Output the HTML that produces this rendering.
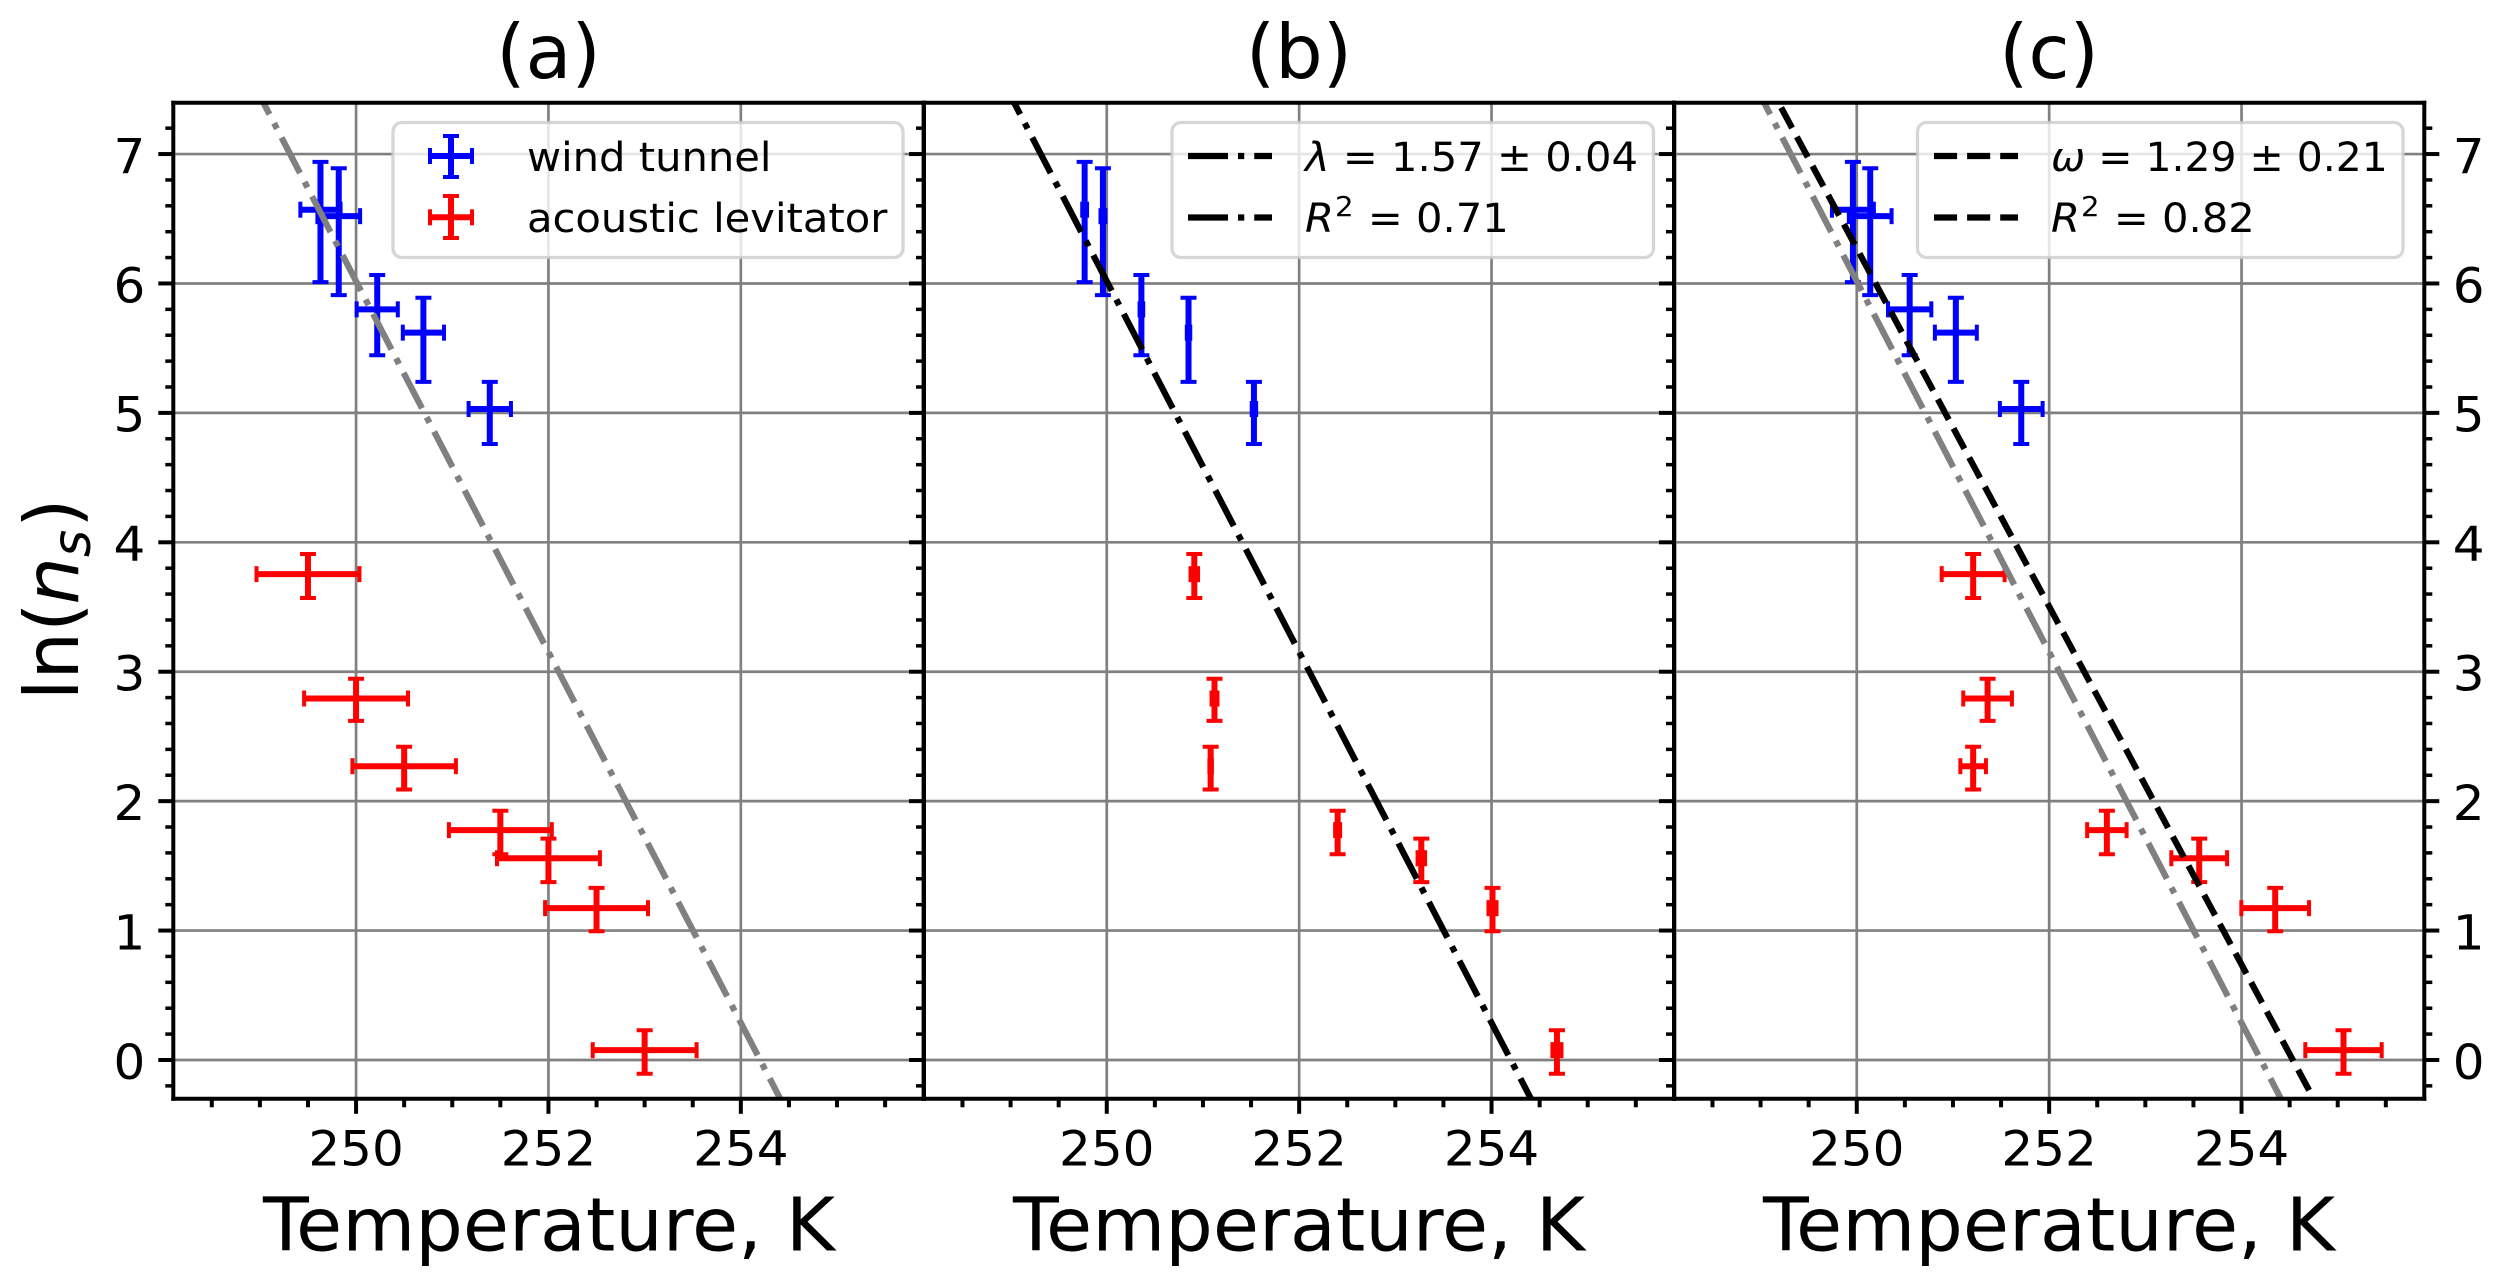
<!DOCTYPE html>
<html lang="en">
<head>
<meta charset="utf-8">
<title>Temperature dependence of ln(ns)</title>
<style>
html,body{margin:0;padding:0;background:#fff;}
svg{display:block;font-family:"DejaVu Sans","Liberation Sans",sans-serif;}
.title{font-size:75px;fill:#000;}
.axis-label{font-size:74px;fill:#000;}
.legend-text{font-size:40px;fill:#000;}
.legend-frame{fill:#fff;fill-opacity:.8;stroke:#ccc;stroke-opacity:.8;stroke-width:3.3;}
</style>
</head>
<body>
<svg id="chart" xmlns="http://www.w3.org/2000/svg" width="2506" height="1287" viewBox="0 0 2506 1287">
  <rect x="0" y="0" width="2506" height="1287" fill="#fff"/>
  <g id="layer-marks"></g>

  <g>
    <rect class="legend-frame" x="393" y="122.5" width="510" height="135" rx="9"/>
    <g stroke="#0000ff" fill="none">
      <line x1="430" x2="472" y1="156" y2="156" stroke-width="6"/>
      <line x1="451" x2="451" y1="136" y2="177" stroke-width="6"/>
      <line x1="430" x2="430" y1="148" y2="164" stroke-width="4"/>
      <line x1="472" x2="472" y1="148" y2="164" stroke-width="4"/>
      <line x1="443" x2="459" y1="136" y2="136" stroke-width="4"/>
      <line x1="443" x2="459" y1="177" y2="177" stroke-width="4"/>
    </g>
    <text class="legend-text" transform="translate(527,171) scale(1.042,1)">wind tunnel</text>
    <g stroke="#ff0000" fill="none">
      <line x1="430" x2="472" y1="217.3" y2="217.3" stroke-width="6"/>
      <line x1="451" x2="451" y1="196" y2="238" stroke-width="6"/>
      <line x1="430" x2="430" y1="209.3" y2="225.3" stroke-width="4"/>
      <line x1="472" x2="472" y1="209.3" y2="225.3" stroke-width="4"/>
      <line x1="443" x2="459" y1="196" y2="196" stroke-width="4"/>
      <line x1="443" x2="459" y1="238" y2="238" stroke-width="4"/>
    </g>
    <text class="legend-text" transform="translate(527,232) scale(1.042,1)">acoustic levitator</text>
  </g>

  <g>
    <rect class="legend-frame" x="1172" y="122.5" width="481.5" height="135" rx="9"/>
    <line x1="1188" x2="1272" y1="156" y2="156" stroke="#000" stroke-width="6.25" stroke-dasharray="40 10 6.25 10"/>
    <text class="legend-text" transform="translate(1305,171) scale(1.042,1)"><tspan font-style="italic">λ</tspan> = 1.57 ± 0.04</text>
    <line x1="1188" x2="1272" y1="217.5" y2="217.5" stroke="#000" stroke-width="6.25" stroke-dasharray="40 10 6.25 10"/>
    <text class="legend-text" transform="translate(1305,232) scale(1.042,1)"><tspan font-style="italic">R</tspan><tspan font-size="28" dy="-16" dx="1">2</tspan><tspan dy="16" dx="1"> = 0.71</tspan></text>
  </g>

  <g>
    <rect class="legend-frame" x="1917.5" y="122.5" width="485.5" height="135" rx="9"/>
    <line x1="1934" x2="2018" y1="156" y2="156" stroke="#000" stroke-width="6.25" stroke-dasharray="23.1 10"/>
    <text class="legend-text" transform="translate(2051,171) scale(1.022,1)"><tspan font-style="italic">ω</tspan> = 1.29 ± 0.21</text>
    <line x1="1934" x2="2018" y1="217.5" y2="217.5" stroke="#000" stroke-width="6.25" stroke-dasharray="23.1 10"/>
    <text class="legend-text" transform="translate(2051,232) scale(1.042,1)"><tspan font-style="italic">R</tspan><tspan font-size="28" dy="-16" dx="1">2</tspan><tspan dy="16" dx="1"> = 0.82</tspan></text>
  </g>

  <text class="title" x="548.5" y="77.8" text-anchor="middle">(a)</text>
  <text class="title" x="1299" y="77.8" text-anchor="middle">(b)</text>
  <text class="title" x="2049" y="77.8" text-anchor="middle">(c)</text>
  <text class="axis-label" transform="translate(549,1250.3) scale(1.014,1)" text-anchor="middle">Temperature, K</text>
  <text class="axis-label" transform="translate(1299,1250.3) scale(1.014,1)" text-anchor="middle">Temperature, K</text>
  <text class="axis-label" transform="translate(2049,1250.3) scale(1.014,1)" text-anchor="middle">Temperature, K</text>
  <text transform="translate(78,700.3) rotate(-90)" font-size="75" fill="#000">ln(<tspan font-style="italic" dx="-2">n</tspan><tspan font-style="italic" font-size="52.5" dy="12">s</tspan><tspan dy="-12" dx="2">)</tspan></text>
</svg>

<script>
// Shared measured values
const blueLnNs = [6.57, 6.52, 5.80, 5.62, 5.03];
const blueLnNsLow = [6.01, 5.91, 5.445, 5.24, 4.76];
const blueLnNsHigh = [6.94, 6.89, 6.065, 5.89, 5.24];
const redLnNs = [3.754, 2.793, 2.27, 1.776, 1.559, 1.173, 0.076];
const redLnNsLow = [3.57, 2.62, 2.09, 1.59, 1.374, 0.995, -0.106];
const redLnNsHigh = [3.91, 2.946, 2.42, 1.926, 1.71, 1.33, 0.23];

// Panel (a) temperatures
const blueTempA = [249.63, 249.82, 250.22, 250.70, 251.39];
const blueTempErrA = [0.209, 0.222, 0.214, 0.214, 0.22];
const redTempA = [249.50, 250.0, 250.50, 251.50, 252.0, 252.50, 253.0];
const redTempErrA = [0.535, 0.54, 0.538, 0.535, 0.535, 0.535, 0.54];

// Panel (b) temperatures
const blueTempB = [249.77, 249.96, 250.36, 250.85, 251.53];
const blueTempErrB = [0.025, 0.025, 0.019, 0.018, 0.023];
const redTempB = [250.91, 251.12, 251.08, 252.40, 253.27, 254.01, 254.68];
const redTempErrB = [0.039, 0.031, 0.013, 0.026, 0.039, 0.042, 0.047];

// Panel (c) temperatures
const blueTempC = [249.96, 250.14, 250.55, 251.03, 251.71];
const blueTempErrC = [0.218, 0.222, 0.225, 0.218, 0.222];
const redTempC = [251.21, 251.36, 251.21, 252.60, 253.56, 254.35, 255.06];
const redTempErrC = [0.327, 0.253, 0.133, 0.205, 0.29, 0.352, 0.397];

// Fit lines (temperature, ln(ns)) at their two ends
const fitLambdaTemp = [249.035, 254.41];
const fitLambdaLnNs = [7.4, -0.3];
const fitOmegaTemp = [249.184, 254.75];
const fitOmegaLnNs = [7.4, -0.3];

// Ticks
const xMajorTicks = [250, 252, 254];
const xTickLabels = ['250', '252', '254'];
const xMinorTicks = [248.5, 249, 249.5, 250.5, 251, 251.5, 252.5, 253, 253.5, 254.5, 255, 255.5];
const yMajorTicks = [0, 1, 2, 3, 4, 5, 6, 7];
const yTickLabels = ['0', '1', '2', '3', '4', '5', '6', '7'];
const yMinorTicks = [-0.2, 0.2, 0.4, 0.6, 0.8, 1.2, 1.4, 1.6, 1.8, 2.2, 2.4, 2.6, 2.8, 3.2, 3.4, 3.6, 3.8, 4.2, 4.4, 4.6, 4.8, 5.2, 5.4, 5.6, 5.8, 6.2, 6.4, 6.6, 6.8, 7.2];

// Axis limits
const xLimits = [248.1, 255.9];
const yLimits = [-0.3, 7.396];

const SVGNS = 'http://www.w3.org/2000/svg';
const layer = document.getElementById('layer-marks');
const plotTop = 102.8, plotBottom = 1098.8, plotWidth = 750.3;

function xAxis(left, t) {
  return left + (t - xLimits[0]) / (xLimits[1] - xLimits[0]) * plotWidth;
}
function yAxis(v) {
  return plotBottom - (v - yLimits[0]) / (yLimits[1] - yLimits[0]) * (plotBottom - plotTop);
}
function seg(parent, name, x1, y1, x2, y2, color, width, dash, offset) {
  const el = document.createElementNS(SVGNS, 'line');
  
  
  el.setAttribute('x1', x1);
  el.setAttribute('y1', y1);
  el.setAttribute('x2', x2);
  el.setAttribute('y2', y2);
  el.setAttribute('stroke', color);
  el.setAttribute('stroke-width', width);
  if (dash) {
    el.setAttribute('stroke-dasharray', dash);
    el.setAttribute('stroke-dashoffset', offset || 0);
  }
  parent.appendChild(el);
  return el;
}
function label(parent, name, x, y, txt, anchor) {
  const el = document.createElementNS(SVGNS, 'text');
  
  
  el.setAttribute('transform', 'translate(' + x + ',' + y + ') scale(1.042,1)');
  el.setAttribute('font-size', '48');
  el.setAttribute('text-anchor', anchor);
  el.textContent = txt;
  parent.appendChild(el);
}
function group(parent, name) {
  const g = document.createElementNS(SVGNS, 'g');
  
  
  parent.appendChild(g);
  return g;
}
function errorBars(parent, left, key, color, temps, errs, vals, lows, highs) {
  const capHalf = 8, lw = 6, capW = 4;
  temps.forEach(function (t, i) {
    const g = group(parent, key + '-point-' + (i + 1));
    const x = xAxis(left, t), y = yAxis(vals[i]);
    const xl = xAxis(left, t - errs[i]), xh = xAxis(left, t + errs[i]);
    const yl = yAxis(lows[i]), yh = yAxis(highs[i]);
    seg(g, key + '-x-error', xl, y, xh, y, color, lw);
    seg(g, key + '-y-error', x, yl, x, yh, color, lw);
    seg(g, key + '-x-cap-low', xl, y - capHalf, xl, y + capHalf, color, capW);
    seg(g, key + '-x-cap-high', xh, y - capHalf, xh, y + capHalf, color, capW);
    seg(g, key + '-y-cap-low', x - capHalf, yl, x + capHalf, yl, color, capW);
    seg(g, key + '-y-cap-high', x - capHalf, yh, x + capHalf, yh, color, capW);
  });
}
function fitLine(parent, left, name, temps, vals, color, dash, offset) {
  seg(parent, name, xAxis(left, temps[0]), yAxis(vals[0]), xAxis(left, temps[1]), yAxis(vals[1]), color, 6.25, dash, offset);
}
function drawPanel(key, left, opts) {
  const panel = group(layer, 'panel-' + key);
  const right = left + plotWidth;
  const grid = group(panel, 'panel-' + key + '-grid');
  xMajorTicks.forEach(function (t) {
    seg(grid, 'x-gridline-' + t, xAxis(left, t), plotTop, xAxis(left, t), plotBottom, '#808080', 2.7);
  });
  yMajorTicks.forEach(function (v) {
    seg(grid, 'y-gridline-' + v, left, yAxis(v), right, yAxis(v), '#808080', 2.7);
  });
  opts.draw(panel, left);
  const axes = group(panel, 'panel-' + key + '-axes');
  xMajorTicks.forEach(function (t, i) {
    const x = xAxis(left, t);
    seg(axes, 'x-tick-' + t, x, plotBottom, x, plotBottom + 15, '#000', 4);
    label(axes, 'x-tick-label-' + t, x, 1165.7, xTickLabels[i], 'middle');
  });
  xMinorTicks.forEach(function (t) {
    const x = xAxis(left, t);
    seg(axes, 'x-minor-tick-' + t, x, plotBottom, x, plotBottom + 8.5, '#000', 4);
  });
  yMajorTicks.forEach(function (v, i) {
    const y = yAxis(v);
    if (opts.side === 'left' || opts.side === 'both') {
      seg(axes, 'y-tick-left-' + v, left, y, left - 15, y, '#000', 4);
    }
    if (opts.side === 'both') {
      seg(axes, 'y-tick-right-' + v, right, y, right + 15, y, '#000', 4);
      label(axes, 'y-tick-label-right-' + v, 2452.7, y + 18.8, yTickLabels[i], 'start');
    }
    if (opts.labelLeft) {
      label(axes, 'y-tick-label-' + v, 145.3, y + 18.8, yTickLabels[i], 'end');
    }
  });
  yMinorTicks.forEach(function (v) {
    const y = yAxis(v);
    seg(axes, 'y-minor-tick-left-' + v, left, y, left - 8, y, '#000', 3.5);
    if (opts.side === 'both') {
      seg(axes, 'y-minor-tick-right-' + v, right, y, right + 8, y, '#000', 3.5);
    }
  });
  seg(axes, 'left-spine', left, plotTop - 2, left, plotBottom + 2, '#000', 4);
  seg(axes, 'right-spine', right, plotTop - 2, right, plotBottom + 2, '#000', 4);
  seg(axes, 'top-spine', left - 2, plotTop, right + 2, plotTop, '#000', 4);
  seg(axes, 'bottom-spine', left - 2, plotBottom, right + 2, plotBottom, '#000', 4);
}

drawPanel('a', 173.3, {
  side: 'left',
  labelLeft: true,
  draw: function (p, left) {
    errorBars(p, left, 'wind-tunnel', '#0000ff', blueTempA, blueTempErrA, blueLnNs, blueLnNsLow, blueLnNsHigh);
    errorBars(p, left, 'acoustic-levitator', '#ff0000', redTempA, redTempErrA, redLnNs, redLnNsLow, redLnNsHigh);
    fitLine(p, left, 'fit-line-lambda-reference', fitLambdaTemp, fitLambdaLnNs, '#808080', '40 10 6.25 10', 26.5);
  }
});
drawPanel('b', 924, {
  side: 'left',
  labelLeft: false,
  draw: function (p, left) {
    errorBars(p, left, 'wind-tunnel', '#0000ff', blueTempB, blueTempErrB, blueLnNs, blueLnNsLow, blueLnNsHigh);
    errorBars(p, left, 'acoustic-levitator', '#ff0000', redTempB, redTempErrB, redLnNs, redLnNsLow, redLnNsHigh);
    fitLine(p, left, 'fit-line-lambda', fitLambdaTemp, fitLambdaLnNs, '#000000', '40 10 6.25 10', 26.5);
  }
});
drawPanel('c', 1674, {
  side: 'both',
  labelLeft: false,
  draw: function (p, left) {
    errorBars(p, left, 'wind-tunnel', '#0000ff', blueTempC, blueTempErrC, blueLnNs, blueLnNsLow, blueLnNsHigh);
    errorBars(p, left, 'acoustic-levitator', '#ff0000', redTempC, redTempErrC, redLnNs, redLnNsLow, redLnNsHigh);
    fitLine(p, left, 'fit-line-lambda-reference', fitLambdaTemp, fitLambdaLnNs, '#808080', '40 10 6.25 10', 26.5);
    fitLine(p, left, 'fit-line-omega', fitOmegaTemp, fitOmegaLnNs, '#000000', '23.1 10', 27);
  }
});
</script>
</body>
</html>
